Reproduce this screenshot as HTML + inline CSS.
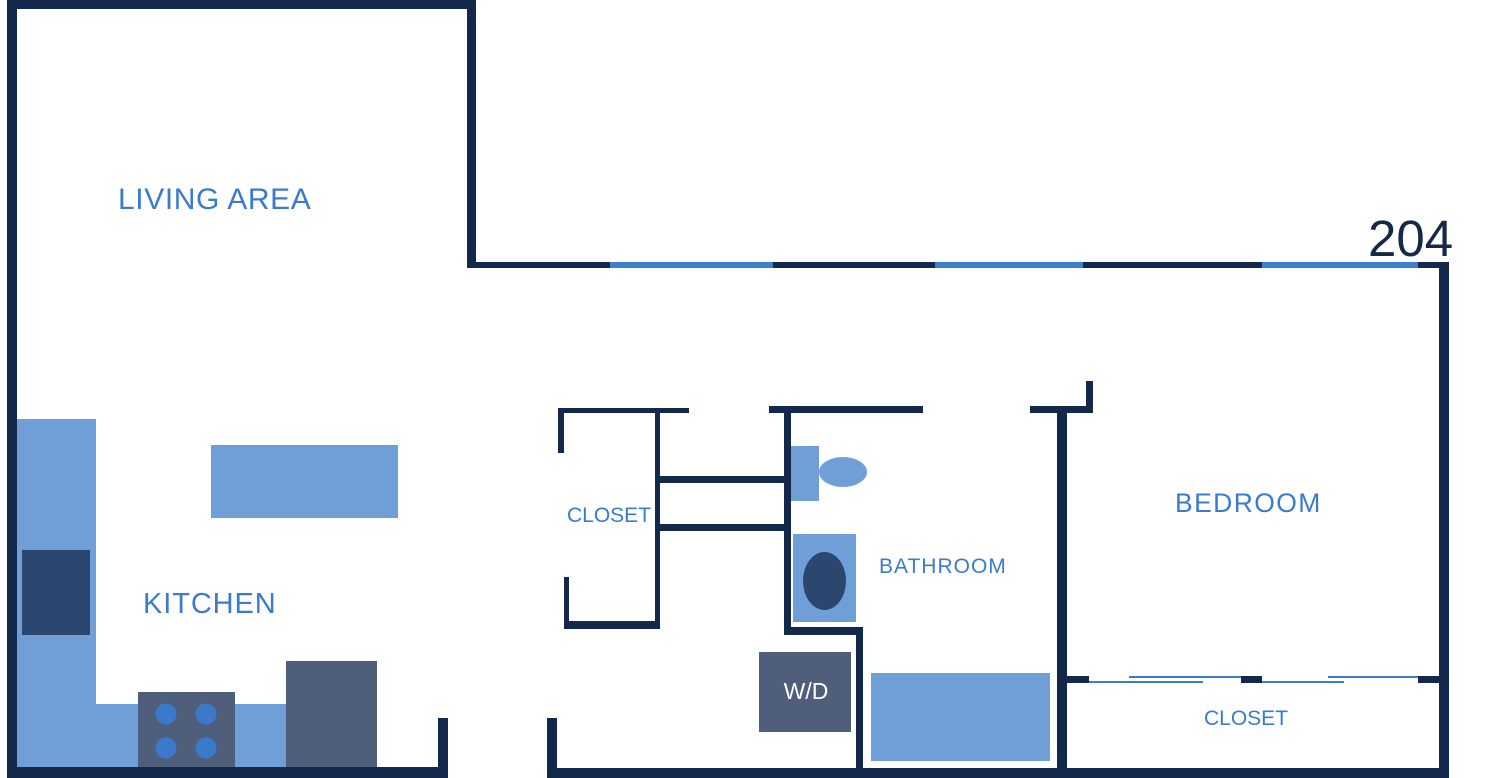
<!DOCTYPE html>
<html>
<head>
<meta charset="utf-8">
<style>
  html,body{margin:0;padding:0;background:#fff;}
  body{width:1500px;height:778px;overflow:hidden;}
  svg{display:block;}
  .lbl{font-family:"Liberation Sans",sans-serif;fill:#3a7bd0;}
</style>
</head>
<body>
<svg width="1500" height="778" viewBox="0 0 1500 778" xmlns="http://www.w3.org/2000/svg">
  <rect x="0" y="0" width="1500" height="778" fill="#fff"/>

  <!-- Kitchen furniture -->
  <rect x="17" y="419" width="79" height="349" fill="#6f9fd6"/>
  <rect x="96" y="704" width="190" height="64" fill="#6f9fd6"/>
  <rect x="22" y="550" width="68" height="85" fill="#2b4770"/>
  <rect x="138" y="692" width="97" height="76" fill="#4f5e7a"/>
  <circle cx="166" cy="714" r="10.5" fill="#3b7acb"/>
  <circle cx="206" cy="714" r="10.5" fill="#3b7acb"/>
  <circle cx="166" cy="748" r="10.5" fill="#3b7acb"/>
  <circle cx="206" cy="748" r="10.5" fill="#3b7acb"/>
  <rect x="286" y="661" width="91" height="107" fill="#4f5e7a"/>
  <rect x="211" y="445" width="187" height="73" fill="#6f9fd6"/>

  <!-- Bathroom fixtures -->
  <rect x="791" y="446" width="28" height="55" fill="#6f9fd6"/>
  <ellipse cx="843" cy="472" rx="24" ry="15" fill="#6f9fd6"/>
  <rect x="793" y="534" width="63" height="88" fill="#6f9fd6"/>
  <ellipse cx="824.5" cy="581" rx="21.5" ry="29" fill="#2b4770"/>
  <rect x="759" y="652" width="92" height="80" fill="#4f5e7a"/>
  <text x="806" y="699" text-anchor="middle" font-family="Liberation Sans, sans-serif" font-size="23" fill="#fff">W/D</text>
  <rect x="871" y="673" width="179" height="88" fill="#6f9fd6"/>

  <!-- Walls -->
  <g fill="#14284b">
    <rect x="7" y="0" width="469" height="9"/>
    <rect x="7" y="0" width="10" height="778"/>
    <rect x="467" y="0" width="9" height="268"/>
    <rect x="467" y="262" width="143" height="6"/>
    <rect x="773" y="262" width="162" height="6"/>
    <rect x="1083" y="262" width="179" height="6"/>
    <rect x="1418" y="262" width="31" height="6"/>
    <rect x="1439" y="262" width="10" height="516"/>
    <rect x="7" y="767" width="441" height="11"/>
    <rect x="438" y="718" width="10" height="60"/>
    <rect x="547" y="768" width="902" height="10"/>
    <rect x="547" y="718" width="10" height="60"/>
    <rect x="558" y="408" width="131" height="5"/>
    <rect x="558" y="408" width="6" height="45"/>
    <rect x="655" y="408" width="5" height="221"/>
    <rect x="564" y="577" width="5" height="52"/>
    <rect x="564" y="621" width="96" height="8"/>
    <rect x="655" y="476" width="132" height="7"/>
    <rect x="655" y="524" width="132" height="7"/>
    <rect x="769" y="406" width="154" height="7"/>
    <rect x="784" y="406" width="7" height="229"/>
    <rect x="784" y="627" width="79" height="8"/>
    <rect x="856" y="627" width="7" height="151"/>
    <rect x="1030" y="406" width="63" height="7"/>
    <rect x="1086" y="381" width="7" height="32"/>
    <rect x="1057" y="406" width="10" height="372"/>
    <rect x="1067" y="676" width="22" height="7"/>
    <rect x="1241" y="676" width="21" height="7"/>
    <rect x="1418" y="676" width="21" height="7"/>
  </g>

  <!-- windows -->
  <g fill="#3f7fcf">
    <rect x="610" y="262" width="163" height="6"/>
    <rect x="935" y="262" width="148" height="6"/>
    <rect x="1262" y="262" width="156" height="6"/>
  </g>

  <!-- sliding closet doors -->
  <g stroke="#3d7ccc" stroke-width="2">
    <line x1="1089" y1="682" x2="1203" y2="682"/>
    <line x1="1129" y1="677" x2="1241" y2="677"/>
    <line x1="1262" y1="682" x2="1344" y2="682"/>
    <line x1="1328" y1="677" x2="1418" y2="677"/>
  </g>

  <!-- Labels -->
  <text class="lbl" x="118" y="209" font-size="30" letter-spacing="0.6">LIVING AREA</text>
  <text class="lbl" x="143" y="613" font-size="29" letter-spacing="0.9">KITCHEN</text>
  <text class="lbl" x="567" y="522" font-size="21">CLOSET</text>
  <text class="lbl" x="879" y="573" font-size="21" letter-spacing="1">BATHROOM</text>
  <text class="lbl" x="1175" y="512" font-size="26.5" letter-spacing="1.4">BEDROOM</text>
  <text class="lbl" x="1204" y="725" font-size="21">CLOSET</text>
  <text x="1368" y="256" font-family="Liberation Sans, sans-serif" font-size="51" fill="#152848">204</text>
</svg>
</body>
</html>
